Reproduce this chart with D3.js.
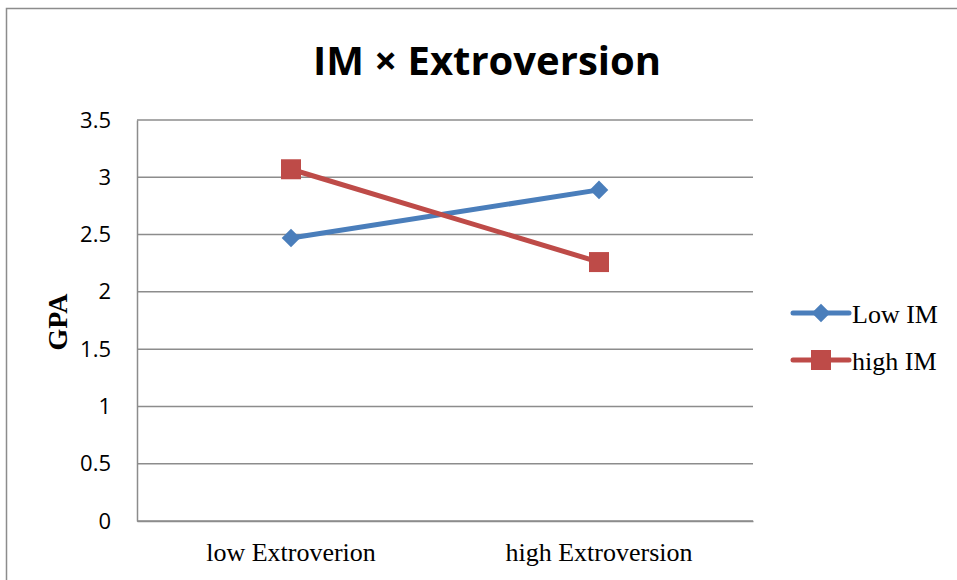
<!DOCTYPE html>
<html>
<head>
<meta charset="utf-8">
<script src="https://cdn.jsdelivr.net/npm/d3@7"></script>
<style>
  html, body { margin: 0; padding: 0; background: #fff; }
  svg { display: block; }
</style>
</head>
<body>
<svg id="chart" width="957" height="580"></svg>
<script>
// Interaction plot: GPA by extroversion level for low / high IM
const categories = ["low Extroverion", "high Extroversion"];
const seriesNames = ["Low IM", "high IM"];
const lowIM = [2.47, 2.89];
const highIM = [3.07, 2.26];
const yTicks = [0, 0.5, 1, 1.5, 2, 2.5, 3, 3.5];
const colors = ["#4a7ebb", "#be4b48"];

const svg = d3.select("#chart");
const W = 957, H = 580;
const plot = { left: 137, right: 753, top: 120, bottom: 521 };

// outer chart frame
svg.append("rect")
  .attr("x", 6.5).attr("y", 8.5)
  .attr("width", W + 10).attr("height", H + 10)
  .attr("fill", "none").attr("stroke", "#8c8c8c").attr("stroke-width", 1.5);

const x = d3.scaleBand().domain(categories).range([plot.left, plot.right]);
const y = d3.scaleLinear().domain([0, 3.5]).range([plot.bottom, plot.top]);

// horizontal gridlines
svg.append("g")
  .selectAll("line")
  .data(yTicks)
  .join("line")
  .attr("x1", plot.left).attr("x2", plot.right)
  .attr("y1", d => y(d)).attr("y2", d => y(d))
  .attr("stroke", "#8c8c8c").attr("stroke-width", 1.5);

// y axis
const yAxis = svg.append("g")
  .attr("transform", `translate(${plot.left},0)`)
  .call(d3.axisLeft(y).tickValues(yTicks).tickSize(0).tickPadding(26).tickFormat(d3.format("")));
yAxis.select(".domain").attr("stroke", "#8c8c8c").attr("stroke-width", 1.5);
yAxis.selectAll("text")
  .attr("font-family", "'Open Sans', sans-serif")
  .attr("font-size", 22).attr("fill", "#000");

// x axis
const xAxis = svg.append("g")
  .attr("transform", `translate(0,${plot.bottom})`)
  .call(d3.axisBottom(x).tickSize(0).tickPadding(22));
xAxis.select(".domain").attr("stroke", "#8c8c8c").attr("stroke-width", 1.5);
xAxis.selectAll("text")
  .attr("font-family", "'Liberation Serif', 'Times New Roman', serif")
  .attr("font-size", 26).attr("fill", "#000");

// title
svg.append("text")
  .attr("x", 487).attr("y", 75)
  .attr("text-anchor", "middle")
  .attr("font-family", "'Open Sans', sans-serif")
  .attr("font-weight", "bold").attr("font-size", 40)
  .text("IM × Extroversion");

// y axis title
svg.append("text")
  .attr("transform", "translate(67,322) rotate(-90)")
  .attr("text-anchor", "middle")
  .attr("font-family", "'Liberation Serif', 'Times New Roman', serif")
  .attr("font-weight", "bold").attr("font-size", 28)
  .text("GPA");

const line = d3.line()
  .x((d, i) => x(categories[i]) + x.bandwidth() / 2)
  .y(d => y(d));

const series = [lowIM, highIM];
const diamond = d3.symbol().type(d3.symbolDiamond2 || d3.symbolDiamond).size(220);

series.forEach((vals, s) => {
  svg.append("path")
    .datum(vals)
    .attr("d", line)
    .attr("fill", "none")
    .attr("stroke", colors[s]).attr("stroke-width", 5)
    .attr("stroke-linecap", "round");
});

// markers
svg.append("g").selectAll("path")
  .data(lowIM)
  .join("path")
  .attr("transform", (d, i) => `translate(${x(categories[i]) + x.bandwidth() / 2},${y(d)})`)
  .attr("d", diamond)
  .attr("fill", colors[0]);

svg.append("g").selectAll("rect")
  .data(highIM)
  .join("rect")
  .attr("x", (d, i) => x(categories[i]) + x.bandwidth() / 2 - 10)
  .attr("y", d => y(d) - 10)
  .attr("width", 20).attr("height", 20)
  .attr("fill", colors[1]);

// legend
const legend = svg.append("g");
const legendY = [313, 360];
seriesNames.forEach((name, s) => {
  const g = legend.append("g").attr("transform", `translate(0,${legendY[s]})`);
  g.append("line")
    .attr("x1", 793).attr("x2", 849)
    .attr("stroke", colors[s]).attr("stroke-width", 5)
    .attr("stroke-linecap", "round");
  if (s === 0) {
    g.append("path").attr("transform", "translate(821,0)")
      .attr("d", diamond).attr("fill", colors[s]);
  } else {
    g.append("rect").attr("x", 811).attr("y", -10)
      .attr("width", 20).attr("height", 20).attr("fill", colors[s]);
  }
  g.append("text")
    .attr("x", 852).attr("y", 10)
    .attr("font-family", "'Liberation Serif', 'Times New Roman', serif")
    .attr("font-size", 26).attr("fill", "#000")
    .text(name);
});
</script>
</body>
</html>
